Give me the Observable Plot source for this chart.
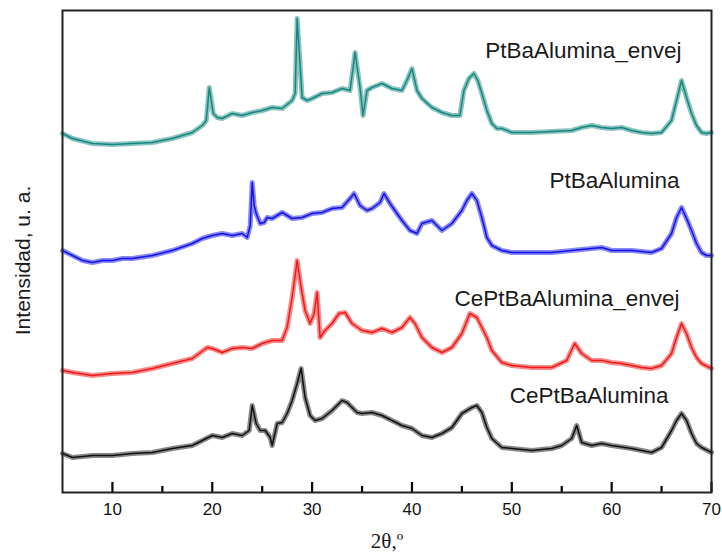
<!DOCTYPE html>
<html><head><meta charset="utf-8">
<script src="https://cdn.jsdelivr.net/npm/d3@7"></script>
<script src="https://cdn.jsdelivr.net/npm/@observablehq/plot@0.6"></script>
<style>body{margin:0;background:#fff}</style>
</head><body><div id="chart"></div>
<script>
// XRD patterns, intensity in arbitrary units (stacked as in the figure)
const tealAngle = [5,6,8,10,12,14,16,18,19,19.4,19.7,20.1,20.5,21,22,23,24,25,26,27,28,28.3,28.5,29,29.5,30,31,32,33,33.8,34.3,34.8,35.1,35.5,36,37,38,39,39.5,40,40.5,41,42,43,44,44.8,45.2,45.7,46.2,46.6,47,47.5,48,48.5,49,50,52,54,56,57,58,59,60,61,62,63,64,65,66,66.5,67,67.5,68,68.5,69,69.5,70];
const tealInt = [359,354,349,348,349,350,354,360,367,372,405,379,375,374,379,377,380,382,385,384,392,399,474,395,392,394,399,400,404,402,440,405,377,402,405,409,404,402,412,424,402,394,385,380,377,377,402,414,419,412,399,382,369,364,364,360,360,361,362,365,367,365,364,365,362,360,359,360,372,392,412,395,379,367,360,359,360];

const blueAngle = [5,6,7,8,9,10,11,12,14,16,18,19,20,21,22,23,23.5,23.8,24,24.2,24.4,24.8,25.2,25.5,26,27,28,29,30,31,32,33,33.8,34.2,34.8,35.5,36,36.8,37.2,37.8,38.5,39,39.8,40.5,41,42,43,44,45,45.5,46,46.5,47,47.5,48,49,50,52,54,56,58,59,60,62,64,65,66,66.5,67,67.5,68,68.5,69,69.5,70];
const blueInt = [242,237,232,230,232,232,234,234,237,242,249,254,257,259,257,259,255,267,310,287,279,269,270,275,274,280,274,275,279,280,284,285,294,299,287,282,284,290,299,289,279,272,262,259,269,272,262,269,282,292,299,292,275,255,247,242,240,240,240,242,244,245,242,242,240,244,259,275,285,274,262,249,240,237,237];

const redAngle = [5,6,8,10,12,14,16,18,19.5,20,21,22,23,24,25,26,27,27.5,28,28.5,28.9,29.3,29.8,30.2,30.5,30.8,31.3,32,32.7,33.3,34,35,36,37,38,39,39.8,40.3,41,42,43,44,45,45.8,46.5,47,47.5,48,49,50,52,54,55.5,56.3,57,58,59,60,61,62,63,64,65,66,66.5,67,67.5,68,68.5,69,70];
const redInt = [122,120,117,119,120,124,129,134,145,144,140,144,145,144,149,152,152,165,195,232,205,182,169,179,200,155,162,169,179,180,169,162,160,164,160,165,175,169,155,145,140,145,159,179,175,165,155,142,130,127,125,125,132,149,139,132,132,130,129,127,125,124,127,139,155,169,159,145,135,129,124];

const blackAngle = [5,6,8,10,12,14,16,18,19,20,21,22,23,23.7,24,24.4,24.8,25.3,25.8,26,26.5,27,27.5,28,28.5,28.9,29.3,29.8,30.3,31,32,33,33.5,34,34.5,35,36,37,38,39,40,41,42,43,44,45,46,46.5,47,47.5,48,49,50,52,54,55,56,56.5,57,58,59,60,62,63,64,65,66,66.5,67,67.5,68,68.5,69,70];
const blackInt = [39,35,37,37,39,40,44,47,52,57,55,59,57,62,87,69,62,62,55,47,69,70,79,92,109,124,95,77,72,74,82,92,90,85,80,79,80,77,72,67,64,57,55,59,65,79,85,87,80,65,54,45,44,42,44,47,54,67,50,47,49,47,44,42,40,45,62,72,79,72,59,49,45,40];

const seriesNames = ["PtBaAlumina_envej", "PtBaAlumina", "CePtBaAlumina_envej", "CePtBaAlumina"];
const seriesColors = ["#16877f", "#1414e6", "#ee1a1a", "#111111"];
const labelAngle = [67.0, 66.8, 66.8, 65.7];
const labelInt = [442, 312, 194, 97];

const xTicks = [10, 20, 30, 40, 50, 60, 70];
const xMinorTicks = [15, 25, 35, 45, 55, 65];
const xTitle = "2θ,º";
const yTitle = "Intensidad, u. a.";

const angles = [tealAngle, blueAngle, redAngle, blackAngle];
const ints = [tealInt, blueInt, redInt, blackInt];
const rows = [];
seriesNames.forEach((s, i) => angles[i].forEach((a, j) => rows.push({series: s, angle: a, intensity: ints[i][j]})));
const labels = seriesNames.map((s, i) => ({series: s, angle: labelAngle[i], intensity: labelInt[i]}));

const chart = Plot.plot({
  width: 722, height: 553,
  marginLeft: 62, marginRight: 11, marginTop: 10, marginBottom: 61,
  x: {domain: [5, 70]},
  y: {domain: [0, 482], axis: null},
  color: {domain: seriesNames, range: seriesColors},
  style: {fontFamily: "Liberation Sans, Arial, sans-serif", background: "white", color: "#111"},
  marks: [
    Plot.line(rows, {x: "angle", y: "intensity", z: "series", stroke: "series", strokeWidth: 5, strokeOpacity: 0.5}),
    Plot.line(rows, {x: "angle", y: "intensity", z: "series", stroke: "series", strokeWidth: 1.5}),
    Plot.text(labels, {x: "angle", y: "intensity", text: "series", textAnchor: "end", fontSize: 22.5, fill: "#1a1a1a"}),
    Plot.ruleX(xTicks, {x: d => d, y1: 0, y2: 10, stroke: "#000", strokeWidth: 2.2}),
    Plot.ruleX(xMinorTicks, {x: d => d, y1: 0, y2: 6, stroke: "#000", strokeWidth: 2.2}),
    Plot.axisX({ticks: xTicks, tickSize: 0, tickPadding: 10, fontSize: 17, label: null}),
    Plot.frame({stroke: "#222", strokeWidth: 2}),
    Plot.text([yTitle], {text: d => d, frameAnchor: "left", textAnchor: "middle", lineAnchor: "middle", dx: -39, dy: 9, rotate: -90, fontSize: 21, fill: "#1a1a1a"}),
    Plot.text([xTitle], {text: d => d, frameAnchor: "bottom", textAnchor: "middle", lineAnchor: "middle", dy: 49, fontSize: 21, fontFamily: "Liberation Serif, Times New Roman, serif", fill: "#1a1a1a"})
  ]
});
document.getElementById("chart").appendChild(chart);
</script>
</body></html>
